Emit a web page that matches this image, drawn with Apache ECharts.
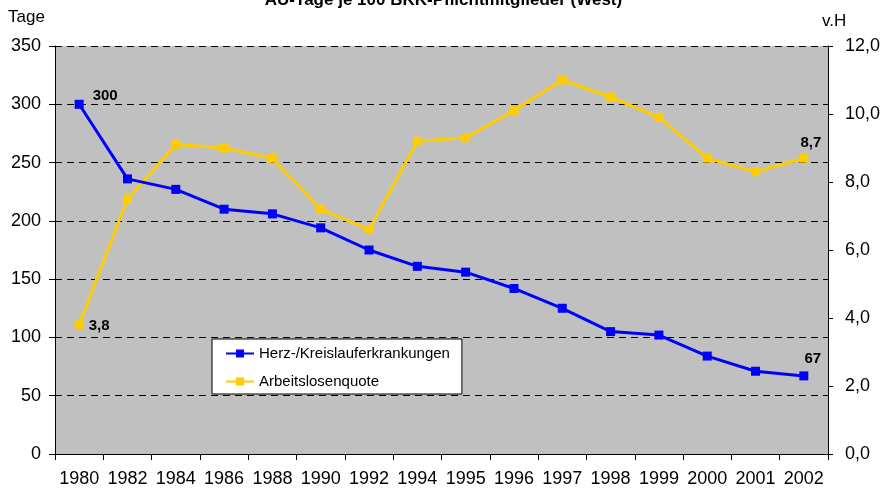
<!DOCTYPE html>
<html lang="de">
  <head>
    <meta charset="UTF-8" />
    <title>AU-Tage je 100 BKK-Pflichtmitglieder (West)</title>
    <script src="https://cdn.jsdelivr.net/npm/echarts@6/dist/echarts.min.js"></script>
    <style>
      html, body { margin: 0; padding: 0; background: #fff; }
      #main { width: 887px; height: 494px; }
    </style>
  </head>
  <body>
    <div id="main"></div>

    <script>
      const years = [
        '1980', '1982', '1984', '1986', '1988', '1990', '1992', '1994',
        '1995', '1996', '1997', '1998', '1999', '2000', '2001', '2002',
      ];

      // AU-Tage je 100 Mitglieder, Herz-/Kreislauferkrankungen
      const herzKreislauf = [300, 236, 227, 210, 206, 194, 175, 161, 156, 142, 125, 105, 102, 84, 71, 67];

      // Arbeitslosenquote in v.H.
      const arbeitslosenquote = [3.8, 7.5, 9.1, 9.0, 8.7, 7.2, 6.6, 9.2, 9.3, 10.1, 11.0, 10.5, 9.9, 8.7, 8.3, 8.7];

      const font = 'Arial, "Liberation Sans", sans-serif';

      function deNum(v, digits) {
        return v.toFixed(digits).replace('.', ',');
      }

      // only the first and last point carry a value label
      function labelled(values, fmt, first, last) {
        return values.map(function (v, i) {
          if (i === 0) return { value: v, label: Object.assign({ show: true, formatter: fmt(v) }, first) };
          if (i === values.length - 1) return { value: v, label: Object.assign({ show: true, formatter: fmt(v) }, last) };
          return v;
        });
      }

      const labelStyle = { fontFamily: font, fontSize: 15, fontWeight: 'bold', color: '#000' };

      const chart = echarts.init(document.getElementById('main'));

      chart.setOption({
        animation: false,
        textStyle: { fontFamily: font },
        title: {
          text: 'AU-Tage je 100 BKK-Pflichtmitglieder (West)',
          left: 'center',
          top: -13,
          textStyle: { fontFamily: font, fontSize: 17, fontWeight: 'bold', color: '#000' },
        },
        graphic: [
          { type: 'text', left: 8, top: 9, style: { text: 'Tage', font: '17px ' + font, fill: '#000' } },
          { type: 'text', left: 822, top: 13, style: { text: 'v.H', font: '17px ' + font, fill: '#000' } },
        ],
        legend: {
          orient: 'vertical',
          left: 212,
          top: 339,
          padding: [7, 12, 5, 13],
          itemGap: 13,
          itemWidth: 28,
          itemHeight: 10,
          backgroundColor: '#fff',
          borderColor: '#000',
          borderWidth: 1,
          borderRadius: 0,
          textStyle: { fontFamily: font, fontSize: 15, color: '#000' },
          data: ['Herz-/Kreislauferkrankungen', 'Arbeitslosenquote'],
        },
        grid: {
          left: 55,
          right: 59,
          top: 46,
          bottom: 40,
          show: true,
          backgroundColor: '#c0c0c0',
          borderWidth: 0,
        },
        xAxis: {
          type: 'category',
          data: years,
          boundaryGap: true,
          axisLine: { lineStyle: { color: '#000', width: 1 } },
          axisTick: { show: true, length: 6, lineStyle: { color: '#000' } },
          axisLabel: { interval: 0, margin: 16, fontSize: 18, color: '#000', fontFamily: font },
        },
        yAxis: [
          {
            type: 'value',
            min: 0,
            max: 350,
            interval: 50,
            axisLine: { show: true, lineStyle: { color: '#000' } },
            axisTick: { show: true, length: 6, lineStyle: { color: '#000' } },
            axisLabel: { margin: 14, fontSize: 18, color: '#000', fontFamily: font },
            splitLine: { show: true, lineStyle: { color: '#000', type: [7, 5], width: 1 } },
          },
          {
            type: 'value',
            position: 'right',
            min: 0,
            max: 12,
            interval: 2,
            axisLine: { show: true, lineStyle: { color: '#000' } },
            axisTick: { show: true, inside: false, length: 5, lineStyle: { color: '#000' } },
            axisLabel: {
              margin: 17,
              fontSize: 18,
              color: '#000',
              fontFamily: font,
              formatter: function (v) { return deNum(v, 1); },
            },
            splitLine: { show: false },
          },
        ],
        series: [
          {
            name: 'Herz-/Kreislauferkrankungen',
            type: 'line',
            yAxisIndex: 0,
            symbol: 'rect',
            symbolSize: 9,
            color: '#0000ff',
            lineStyle: { color: '#0000ff', width: 3 },
            itemStyle: { color: '#0000ff' },
            label: labelStyle,
            data: labelled(
              herzKreislauf,
              function (v) { return String(v); },
              { position: 'right', offset: [4, -8] },
              { position: 'top', offset: [9, 0] }
            ),
            z: 3,
          },
          {
            name: 'Arbeitslosenquote',
            type: 'line',
            yAxisIndex: 1,
            symbol: 'rect',
            symbolSize: 9,
            color: '#ffcc00',
            lineStyle: { color: '#ffcc00', width: 3 },
            itemStyle: { color: '#ffcc00' },
            label: labelStyle,
            data: labelled(
              arbeitslosenquote,
              function (v) { return deNum(v, 1); },
              { position: 'right', offset: [0, 1] },
              { position: 'top', offset: [7, 2] }
            ),
            z: 2,
          },
        ],
      });

      window.onresize = function () {
        chart.resize();
      };
    </script>
  </body>
</html>
